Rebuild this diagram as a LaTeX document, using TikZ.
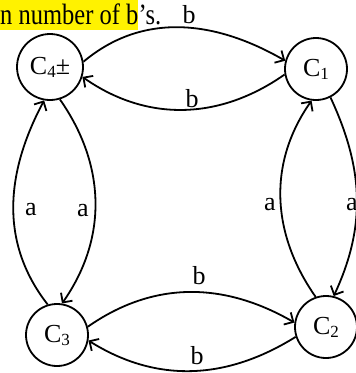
\documentclass[tikz,border=0pt]{standalone}
\usepackage{fontspec}
\setmainfont{Liberation Serif}
\usetikzlibrary{arrows.meta}
\newcommand\sbx[1]{\raisebox{-3pt}{\fontsize{17}{17}\selectfont #1}}
\begin{document}
\begin{tikzpicture}[x=1pt,y=1pt,
  state/.style={circle, draw, line width=1.8pt, minimum size=62pt, inner sep=0pt, font=\fontsize{26}{26}\selectfont},
  edge/.style={line width=1.8pt, -{Straight Barb[length=7pt,width=14pt,line width=1.8pt]}},
  lbl/.style={font=\fontsize{26}{26}\selectfont, inner sep=0pt}]
\useasboundingbox (0,0) rectangle (356,-373);
% heading
\node[fill=yellow, anchor=north west, inner sep=0pt, text height=24pt, text depth=6pt, font=\fontsize{24.5}{24.5}\selectfont] (hl) at (0,0) {\scalebox{1}[1.2]{n number of b}};
\node[anchor=base west, inner sep=0pt, font=\fontsize{24.5}{24.5}\selectfont] (hs) at (hl.base east) {\scalebox{1}[1.2]{’s.}};
% states
\node[state, minimum size=66pt] (c4) at (50,-67) {C\sbx{4}±};
\node[state] (c1) at (316,-69) {C\sbx{1}};
\node[state] (c3) at (57,-335) {C\sbx{3}};
\node[state] (c2) at (326,-327) {C\sbx{2}};
% edges
\draw[edge] (c4.9) to[out=40,in=150] (c1.165);
\draw[edge] (c1.190) to[out=215,in=325] (c4.343);
\draw[edge] (c3.107) to[out=128,in=242] (c4.260);
\draw[edge] (c4.287) to[out=-55,in=55] (c3.81);
\draw[edge] (c3.15) to[out=35,in=150] (c2.172);
\draw[edge] (c2.198) to[out=212,in=328] (c3.350);
\draw[edge] (c2.109) to[out=125,in=235] (c1.262);
\draw[edge] (c1.297) to[out=-65,in=65] (c2.76);
% labels
\node[lbl] (lb1) at (189,-15) {b};
\node[lbl] (lb2) at (192,-99) {b};
\node[lbl] (la1) at (31,-210) {a};
\node[lbl] (la2) at (83,-211) {a};
\node[lbl] (la3) at (270,-205) {a};
\node[lbl] (la4) at (352,-205) {a};
\node[lbl] (lb3) at (199,-276) {b};
\node[lbl] (lb4) at (197,-356) {b};
\end{tikzpicture}
\end{document}
